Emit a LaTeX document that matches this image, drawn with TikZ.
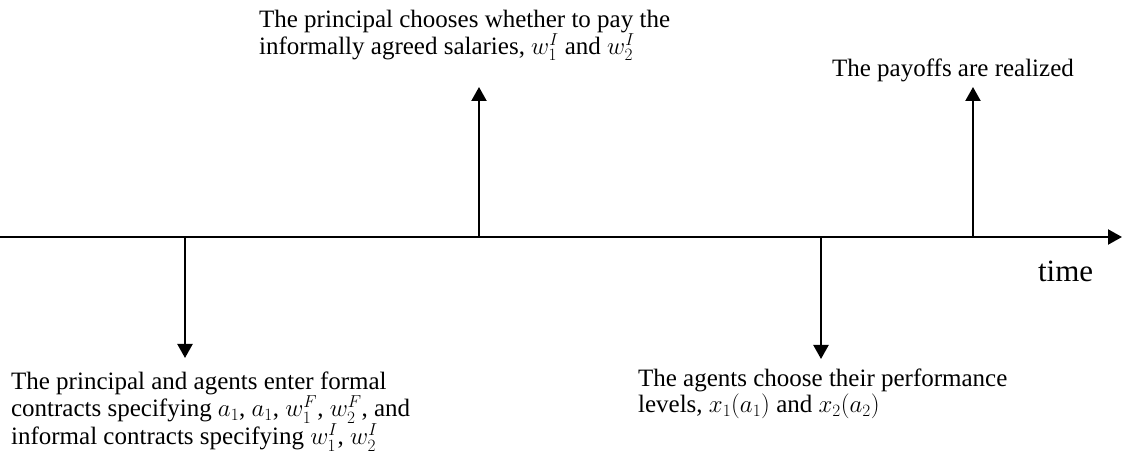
\documentclass[tikz,border=0pt]{standalone}
\usepackage{fontspec}
\setmainfont{Liberation Serif}
\usetikzlibrary{arrows.meta}
\begin{document}
\begin{tikzpicture}[x=1pt, y=1pt, line width=2.2pt, >={Triangle[length=14pt,width=15pt]},
    every node/.style={inner sep=0pt, align=left, font=\fontsize{25}{26}\selectfont}]
	\useasboundingbox (0,0) rectangle (1122,-462);
	
	% time axis
	\coordinate (start) at (0,-237);
	\coordinate (end) at (1122,-237);
	\draw[->] (start) -- (end);
	\node[anchor=base west, font=\fontsize{31}{32}\selectfont] (time) at (1037,-282) {time};
	
	% points on the axis
	\coordinate (t1) at (185,-237);
	\coordinate (t2) at (479,-237);
	\coordinate (t3) at (821,-237);
	\coordinate (t4) at (973,-237);
	
	% texts of the stages
	\node[anchor=north west] (formal) at (10,-371) {The principal and agents enter formal\\contracts specifying $a_1$, $a_1$, $w_1^F$, $w_2^F$, and\\informal contracts specifying $w_1^I$, $w_2^I$};
	\node[anchor=north west] (pay) at (258,-9) {The principal chooses whether to pay the\\informally agreed salaries, $w_1^I$ and $w_2^I$};
	\node[anchor=north west] (perf) at (637,-368) {The agents choose their performance\\levels, $x_1(a_1)$ and $x_2(a_2)$};
	\node[anchor=north west] (payoff) at (831,-58) {The payoffs are realized};
	
	% arrow ends
	\coordinate (e1) at (185,-358);
	\coordinate (e2) at (479,-87);
	\coordinate (e3) at (821,-359);
	\coordinate (e4) at (973,-87);
	
	\draw[->] (t1) -- (e1);
	\draw[->] (t2) -- (e2);
	\draw[->] (t3) -- (e3);
	\draw[->] (t4) -- (e4);
\end{tikzpicture}
\end{document}
